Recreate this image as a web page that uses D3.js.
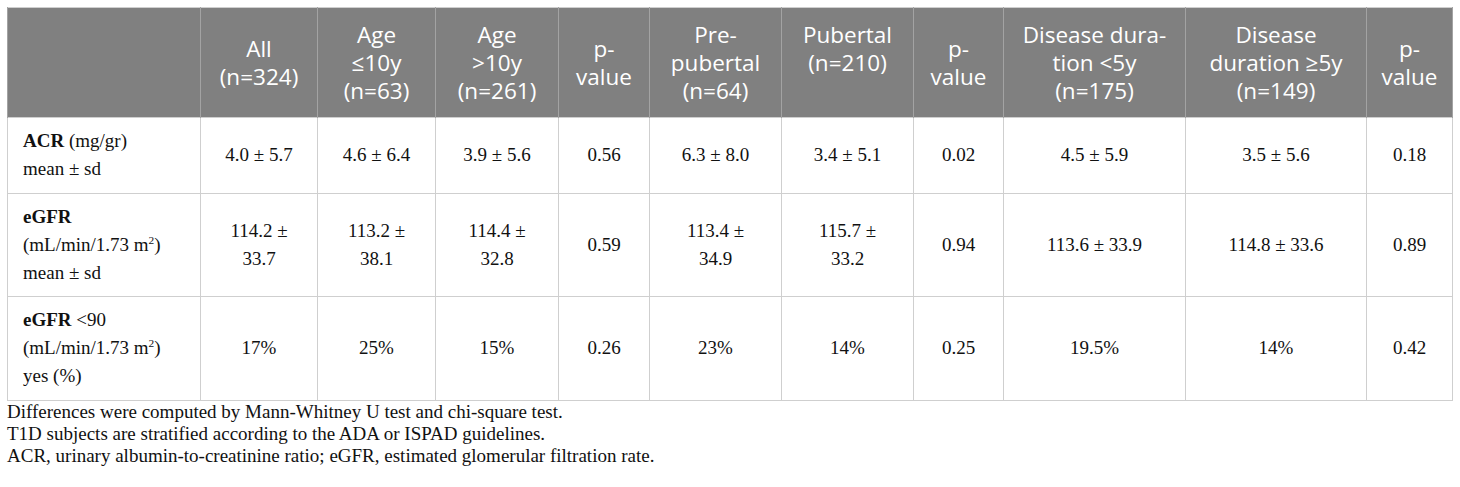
<!DOCTYPE html>
<html>
<head>
    <meta charset="UTF-8">
    <title>ACR and eGFR by subgroup</title>
    <script src="https://d3js.org/d3.v7.min.js"></script>
    <style>
        html, body { margin: 0; padding: 0; background: #fff; }
        #wrap { position: absolute; left: 7px; top: 7px; width: 1445px; }
        table {
          border-collapse: collapse;
          table-layout: fixed;
          width: 1445px;
          border: 1.5px solid #cfcfcf;
        }
        th {
          background: #808080;
          color: #fff;
          font-family: "Open Sans", sans-serif;
          font-weight: normal;
          font-size: 22.5px;
          line-height: 28px;
          height: 110px;
          padding: 0 4px;
          box-sizing: border-box;
          text-align: center;
          vertical-align: middle;
          white-space: nowrap;
          border-left: 1px solid #a3a3a3;
          border-right: 1px solid #a3a3a3;
        }
        th.top { vertical-align: top; padding-top: 13px; }
        td {
          font-family: "Liberation Serif", "Times New Roman", serif;
          font-size: 19px;
          line-height: 28px;
          color: #111;
          padding: 9.3px 18px;
          text-align: center;
          vertical-align: middle;
          border: 1.5px solid #cfcfcf;
        }
        td.label { text-align: left; padding-left: 15px; padding-right: 8px; }
        sup { font-size: 0.6em; line-height: 0; vertical-align: 0.6em; }
        .notes {
          margin-top: 0;
          font-family: "Liberation Serif", "Times New Roman", serif;
          font-size: 19px;
          line-height: 22px;
          color: #111;
        }
    </style>
</head>
<body>
<div id="wrap"></div>
<script>

  // DATA

  var headerLines = [
    [],
    ["All", "(n=324)"],
    ["Age", "≤10y", "(n=63)"],
    ["Age", ">10y", "(n=261)"],
    ["p-", "value"],
    ["Pre-", "pubertal", "(n=64)"],
    ["Pubertal", "(n=210)"],
    ["p-", "value"],
    ["Disease dura-", "tion <5y", "(n=175)"],
    ["Disease", "duration ≥5y", "(n=149)"],
    ["p-", "value"]
  ];

  // bold name, then the rest of the label (line breaks as "|")
  var rowNames = ["ACR", "eGFR", "eGFR"];
  var rowUnits = [" (mg/gr)|mean ± sd", "|(mL/min/1.73 m²)|mean ± sd", " <90|(mL/min/1.73 m²)|yes (%)"];

  var acrValues = ["4.0 ± 5.7", "4.6 ± 6.4", "3.9 ± 5.6", "0.56", "6.3 ± 8.0", "3.4 ± 5.1", "0.02", "4.5 ± 5.9", "3.5 ± 5.6", "0.18"];
  var egfrValues = ["114.2 ± 33.7", "113.2 ± 38.1", "114.4 ± 32.8", "0.59", "113.4 ± 34.9", "115.7 ± 33.2", "0.94", "113.6 ± 33.9", "114.8 ± 33.6", "0.89"];
  var egfrLowValues = ["17%", "25%", "15%", "0.26", "23%", "14%", "0.25", "19.5%", "14%", "0.42"];

  var footnotes = [
    "Differences were computed by Mann-Whitney U test and chi-square test.",
    "T1D subjects are stratified according to the ADA or ISPAD guidelines.",
    "ACR, urinary albumin-to-creatinine ratio; eGFR, estimated glomerular filtration rate."
  ];

  // LAYOUT

  var colWidths = [193, 117, 118, 123, 91, 132, 132, 90, 182, 181, 86];

  // DRAWING

  var table = d3.select("#wrap").append("table");

  table.append("colgroup")
    .selectAll("col")
    .data(colWidths)
    .enter().append("col")
    .style("width", function (d) { return d + "px"; });

  table.append("thead").append("tr")
    .selectAll("th")
    .data(headerLines)
    .enter().append("th")
    .classed("top", function (d) { return d[0] === "Pubertal"; })
    .html(function (d) { return d.join("<br>"); });

  var bodyRows = rowNames.map(function (name, i) {
    return { name: name, unit: rowUnits[i], values: [acrValues, egfrValues, egfrLowValues][i] };
  });

  function fmt(s) {
    return s.replace("m²", "m<sup>2</sup>");
  }

  var tr = table.append("tbody")
    .selectAll("tr")
    .data(bodyRows)
    .enter().append("tr");

  tr.append("td")
    .attr("class", "label")
    .html(function (d) {
      return "<b>" + d.name + "</b>" + fmt(d.unit).split("|").join("<br>");
    });

  tr.selectAll("td.val")
    .data(function (d) { return d.values; })
    .enter().append("td")
    .attr("class", "val")
    .text(function (d) { return d; });

  d3.select("#wrap").append("div")
    .attr("class", "notes")
    .selectAll("div")
    .data(footnotes)
    .enter().append("div")
    .text(function (d) { return d; });

</script>
</body>
</html>
